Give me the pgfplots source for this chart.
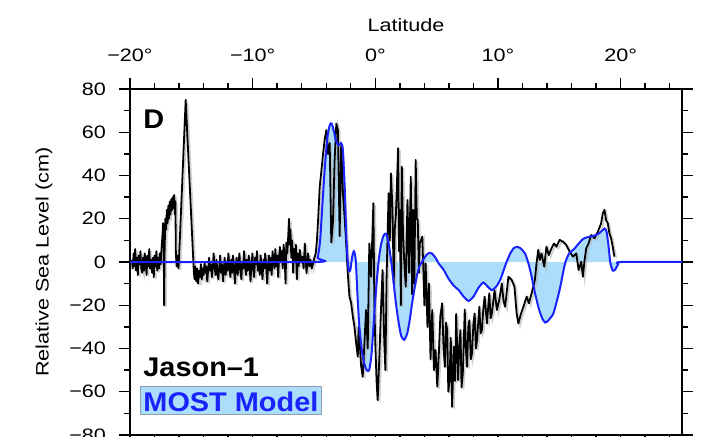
\documentclass[border=0pt]{standalone}
\usepackage{pgfplots}
\pgfplotsset{compat=1.18}
\usepackage{pgfplotstable}
\usepackage{fontspec}
\setmainfont{Liberation Sans}[FakeStretch=1.2]
\newfontfamily\labfont{Liberation Sans}[FakeStretch=1.07]
\definecolor{modelblue}{RGB}{25,35,250}
\definecolor{fillblue}{RGB}{172,222,252}
\definecolor{boxedge}{RGB}{140,160,175}

\pgfplotstableread{
x y
-19.85 1
-19.78 -3
-19.70 4
-19.64 -2
-19.58 6
-19.50 -4
-19.43 2
-19.36 -6
-19.30 3
-19.22 -1
-19.15 5
-19.08 -3
-19.00 -5
-18.93 2
-18.86 -4
-18.80 4
-18.72 0
-18.65 -6
-18.58 3
-18.50 -2
-18.43 6
-18.36 -3
-18.28 1
-18.20 -5
-18.13 2
-18.06 -7
-18.00 3
-17.92 -2
-17.85 5
-17.78 -4
-17.70 2
-17.63 -3
-17.56 4
-17.50 -1
-17.43 6
-17.36 12
-17.30 18
-17.25 8
-17.22 -20
-17.18 5
-17.12 20
-17.05 15
-17.00 24
-16.94 18
-16.88 26
-16.82 20
-16.76 28
-16.70 22
-16.64 29
-16.58 24
-16.52 30
-16.46 25
-16.40 31
-16.34 22
-16.30 28
-16.26 4
-16.20 -2
-16.12 3
-16.05 -3
-16.00 2
-15.46 75
-15.42 70
-14.80 -4
-14.74 -8
-14.68 -2
-14.60 -9
-14.52 -3
-14.45 -10
-14.38 -4
-14.30 -7
-14.22 -1
-14.15 -8
-14.08 -3
-14.00 -6
-13.92 0
-13.85 -5
-13.78 -2
-13.70 -9
-13.62 -3
-13.55 2
-13.48 -4
-13.40 -1
-13.32 -7
-13.25 -2
-13.18 4
-13.10 -3
-13.02 -6
-12.95 1
-12.88 -4
-12.80 -8
-12.72 -2
-12.65 3
-12.58 -5
-12.50 -1
-12.42 -9
-12.35 -3
-12.28 2
-12.20 -6
-12.12 0
-12.05 -4
-11.98 4
-11.90 -2
-11.82 -7
-11.75 1
-11.68 -5
-11.60 3
-11.52 -3
-11.45 -10
-11.38 -2
-11.30 2
-11.22 -6
-11.15 -1
-11.08 4
-11.00 -4
-10.92 -8
-10.85 0
-10.78 -3
-10.70 5
-10.62 -2
-10.55 -6
-10.48 1
-10.40 -4
-10.32 3
-10.25 -1
-10.18 -9
-10.10 -2
-10.02 4
-9.95 -3
-9.88 -7
-9.80 2
-9.72 -1
-9.65 5
-9.58 -4
-9.50 0
-9.42 -6
-9.35 3
-9.28 -2
-9.20 -8
-9.12 1
-9.05 -3
-8.98 4
-8.90 -1
-8.82 -10
-8.75 -2
-8.68 3
-8.60 -4
-8.52 2
-8.45 -6
-8.38 5
-8.30 0
-8.22 -3
-8.15 6
-8.08 -2
-8.00 3
-7.92 -7
-7.85 2
-7.78 7
-7.70 0
-7.62 5
-7.55 -3
-7.48 8
-7.40 3
-7.32 -10
-7.25 9
-7.18 4
-7.10 12
-7.04 20
-6.98 8
-6.92 15
-6.85 2
-6.78 10
-6.70 -5
-6.62 6
-6.55 1
-6.48 8
-6.40 -8
-6.32 4
-6.25 -2
-6.15 5.6
-6.05 0
-5.94 2.5
-5.85 -3
-5.75 8.6
-5.61 -5.2
-5.48 4
-5.38 -2
-5.29 1
-5.18 -3
-5.07 -0.6
-4.96 2
-4.86 4
-4.76 10
-4.66 20
-4.53 35
-4.40 42
-4.26 50
-4.12 57
-3.99 61
-3.86 50
-3.72 55
-3.59 9
-3.45 19
-3.32 47
-3.18 64
-3.05 61
-2.91 12
-2.78 55
-2.64 32
-2.50 20
-2.38 9
-2.25 -5
-2.11 -16
-1.97 -19
-1.84 -25
-1.70 -30
-1.56 -37.7
-1.43 -43.8
-1.36 -30
-1.30 -34.6
-1.16 -48
-1.03 -53.1
-0.89 -37.7
-0.76 -22.2
-0.62 -40
-0.49 8.6
-0.35 -6.8
-0.16 27.2
-0.08 -20
0.00 -37.7
0.10 -55
0.19 -63.9
0.32 -45.4
0.46 -22.2
0.59 -3.7
0.73 -37.7
0.82 -50
0.92 -6.8
1.08 31.8
1.18 10
1.27 41.0
1.40 24.1
1.50 -10
1.58 15
1.67 21.0
1.86 52.6
1.93 5
2.00 24.1
2.08 -20
2.16 44.1
2.25 15
2.35 0.9
2.48 -11.4
2.62 28.7
2.75 -5
2.89 39.5
3.00 -15
3.08 24.1
3.18 -10
3.29 47.2
3.38 20
3.46 19.4
3.55 -5
3.62 8.6
3.83 11.7
4.00 -20
4.10 -0.6
4.25 -30
4.37 -9.9
4.50 -45
4.64 -22.2
4.78 -50
4.91 -40.7
5.05 -57.7
5.18 -42.3
5.30 -25
5.45 -19.1
5.56 -40
5.67 -48.5
5.76 -28
5.86 -31.5
5.95 -60
6.05 -54.6
6.15 -35
6.26 -67
6.40 -39.2
6.50 -55
6.59 -24
6.75 -54.6
6.85 -38
6.94 -31.5
7.03 -58
7.13 -51.5
7.29 -22
7.38 -40
7.48 -48.5
7.58 -30
7.67 -26.9
7.78 -45
7.88 -42.3
8.00 -28
8.10 -23.8
8.20 -40
8.29 -36.1
8.48 -20.7
8.58 -33
8.69 -31.5
8.80 -22
8.91 -16.0
9.10 -28.4
9.29 -14.5
9.40 -26
9.50 -23.8
9.72 -13.0
9.91 -22.2
10.10 -17.6
10.31 -9.9
10.45 -18
10.58 -20.7
10.85 -6.8
11.12 -8.3
11.34 -11.4
11.52 -23.8
11.66 -28.4
11.88 -23.8
12.07 -20.7
12.34 -16.0
12.52 -19.1
12.74 -14.5
13.01 -8.3
13.14 -0.6
13.28 5.6
13.41 0.9
13.55 4.0
13.77 -2.2
13.95 7.1
14.14 3.2
14.36 6.3
14.57 8.6
14.76 7.1
15.03 10.2
15.30 9.4
15.57 7.9
15.84 4.8
16.11 2.5
16.38 4.0
16.57 -3.7
16.79 0.2
16.92 -6.8
17.06 0.9
17.19 6.3
17.38 8.6
17.60 12.5
17.87 11.0
18.14 14.0
18.41 17.9
18.54 22.5
18.68 24.1
18.81 19.4
18.95 17.9
19.08 13.3
19.22 11.0
19.35 7.1
19.49 2.5
}\jason

\pgfplotstableread{
x y
-20.0 0
-4.9 0
-4.7 2
-4.5 10
-4.3 28
-4.1 45
-3.9 58
-3.7 63.5
-3.56 64
-3.4 61
-3.2 56
-3.0 54
-2.8 55
-2.65 52
-2.5 35
-2.35 10
-2.2 -3
-2.05 -4
-1.9 2
-1.75 5
-1.6 1
-1.45 -16
-1.3 -30
-1.1 -41
-0.9 -47
-0.7 -50
-0.5 -50
-0.3 -42
-0.1 -25
0.1 -10
0.3 2
0.5 9
0.7 12.5
0.9 13
1.1 8
1.3 0
1.5 -10
1.7 -20
1.9 -28
2.1 -34
2.35 -36
2.6 -33
2.8 -27
3.0 -19
3.2 -12
3.4 -6
3.6 -2
3.8 0
4.0 2
4.3 4
4.6 4
4.9 2
5.2 -1
5.5 -3
5.8 -6
6.0 -8
6.4 -11
6.8 -13
7.2 -16
7.6 -18
8.0 -16
8.4 -12
8.8 -9.5
9.1 -11
9.5 -13
9.9 -11
10.2 -8
10.45 -4
10.7 0
11.0 4
11.3 6.5
11.5 7
11.8 6.5
12.2 4
12.5 -1
12.75 -7
13.0 -14
13.3 -21
13.6 -26
13.85 -28
14.1 -27
14.5 -24
14.8 -18
15.06 -12
15.3 -5
15.5 0
15.8 4
16.2 6
16.5 8
16.9 10.5
17.3 11.5
17.7 12
18.0 12.5
18.4 14
18.7 15.5
18.85 14
19.0 8
19.15 0
19.35 -4
19.55 -3.5
19.8 -1
20.0 0
25.0 0
}\model

\begin{document}
\begin{tikzpicture}
\begin{axis}[
  at={(0,0)}, anchor=south west,
  scale only axis, width=276pt, height=173pt,
  xmin=-20, xmax=25, ymin=-80, ymax=80,
  axis line style={line width=0.8pt},
  tick align=outside,
  tick style={black, line width=0.7pt},
  major tick length=5.5pt, minor tick length=3pt,
  xtick={-20,-10,0,10,20},
  xticklabels={−20°,−10°,0°,10°,20°},
  minor xtick={-18,-16,...,24},
  ytick={-80,-60,...,80},
  yticklabels={−80,−60,−40,−20,0,20,40,60,80},
  minor ytick={-70,-50,...,70},
  xtick pos=both, ytick pos=both,
  xticklabel pos=upper, yticklabel pos=left,
  ticklabel style={font=\fontsize{9}{10}\selectfont},
  xticklabel style={anchor=base, yshift=8.5pt},
  yticklabel style={xshift=-3pt},
  xlabel={Latitude}, ylabel={Relative Sea Level (cm)},
  label style={font=\fontsize{9}{10}\selectfont},
  xlabel style={at={(axis description cs:0.5,1)}, anchor=base, yshift=29pt},
  ylabel style={at={(axis description cs:-0.156,0.5)}, anchor=center},
]
\addplot[fill=fillblue, draw=none, smooth, tension=0.4] table[x=x,y=y] {\model} -- cycle;
\addplot[gray!60, opacity=0.6, line width=0.9pt, xshift=0.9pt, yshift=-0.9pt] table[x=x,y=y] {\jason};
\addplot[black, line width=0.9pt, line join=round] table[x=x,y=y] {\jason};
\addplot[modelblue, line width=1pt, smooth, tension=0.4] table[x=x,y=y] {\model};
\node[anchor=base west, inner sep=0pt, font=\labfont\bfseries\fontsize{13.5}{15}\selectfont] at (axis description cs:0.0236,0.887) {D};
\node[anchor=base west, inner sep=0pt, font=\labfont\bfseries\fontsize{13.5}{15}\selectfont] at (axis description cs:0.0236,0.168) {Jason–1};
\node[anchor=base west, inner xsep=1.5pt, inner ysep=1.5pt, text height=11pt, text depth=0pt, fill=fillblue, draw=boxedge, line width=0.5pt, text=modelblue, font=\labfont\bfseries\fontsize{13.5}{15}\selectfont] at (axis description cs:0.018,0.0665) {MOST Model};
\end{axis}
\pgfresetboundingbox
\useasboundingbox (-65pt,-0.5pt) rectangle (294pt,217.5pt);
\end{tikzpicture}
\end{document}
